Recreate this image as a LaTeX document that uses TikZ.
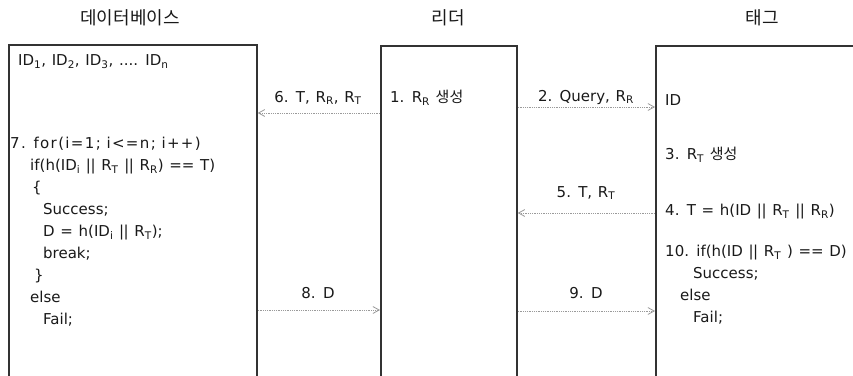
\documentclass[tikz,border=0pt]{standalone}
\usepackage{fontspec}
\setmainfont{DejaVu Sans}
\newfontfamily\kr{Noto Sans CJK KR}
\usetikzlibrary{arrows.meta,positioning}
\definecolor{boxline}{HTML}{333333}
\definecolor{msgline}{HTML}{9A9A9A}
\newcommand{\sbs}[1]{\textsubscript{#1}}
\newcommand{\dbar}{|\kern-0.5pt|}
\newcommand{\widespace}{\spaceskip=0.38em plus 0.1em\relax}
\newcommand{\spread}[2]{{\addfontfeature{LetterSpace=#1}#2}}

\begin{document}
\begin{tikzpicture}[x=1pt,y=1pt,
  every node/.style={font=\fontsize{15}{22}\selectfont,execute at begin node=\widespace,text=black!90,inner sep=0pt},
  party/.style={draw=boxline,line width=1.7pt,minimum width=#1,minimum height=345pt,anchor=north west},
  title/.style={font=\kr\fontsize{18}{20}\selectfont},
  msg/.style={msgline,densely dotted,line width=0.8pt,-{Straight Barb[length=2.2mm,width=2.4mm]}}]
  \useasboundingbox (0,0) rectangle (853,375);
  \clip (0,0) rectangle (853,375);
  % the three parties
  \node[party=248pt] (db) at (8,331) {};
  \node[party=136pt] (rd) at (380,330) {};
  \node[party=260pt] (tg) at (655,330) {};
  \node[title] (dbtitle) at (130,357) {데이터베이스};
  \node[title] (rdtitle) at (448,357) {리더};
  \node[title] (tgtitle) at (762,357) {태그};
  % database
  \node[anchor=west] (ids) at (18,313) {ID\sbs{1}, ID\sbs{2}, ID\sbs{3}, .... ID\sbs{n}};
  \node[anchor=north west,align=left] (dbcode) at (10,238) {\spread{9}{7. for(i=1; i<=n; i++)}\\
    \hspace*{20pt}if(h(ID\sbs{i} \dbar{} R\sbs{T} \dbar{} R\sbs{R}) == T)\\
    \hspace*{22pt}\{\\
    \hspace*{33pt}Success;\\
    \hspace*{33pt}D = h(ID\sbs{i} \dbar{} R\sbs{T});\\
    \hspace*{33pt}break;\\
    \hspace*{24pt}\}\\
    \hspace*{20pt}else\\
    \hspace*{33pt}Fail;};
  % reader
  \node[anchor=west] (rr) at (390,277) {1. R\sbs{R} {\kr 생성}};
  % tag
  \node[anchor=west] (tid) at (665,275) {ID};
  \node[anchor=west] (rt) at (665,220) {3. R\sbs{T} {\kr 생성}};
  \node[anchor=west] (tt) at (665,163) {4. T = h(ID \dbar{} R\sbs{T} \dbar{} R\sbs{R})};
  \node[anchor=north west,align=left] (tgcode) at (665,130) {10. if(h(ID \dbar{} R\sbs{T} ) == D)\\
    \hspace*{28pt}Success;\\
    \hspace*{15pt}else\\
    \hspace*{28pt}Fail;};
  % messages
  \node (m6) at (318,277) {6. T, R\sbs{R}, R\sbs{T}};
  \node (m2) at (586,278) {2. Query, R\sbs{R}};
  \node (m5) at (586,182) {5. T, R\sbs{T}};
  \node (m8) at (318,82) {8. D};
  \node (m9) at (586,82) {9. D};
  \draw[msg] (rd.west |- 0,262) -- (db.east |- 0,262);
  \draw[msg] (rd.east |- 0,268) -- (tg.west |- 0,268);
  \draw[msg] (tg.west |- 0,162) -- (rd.east |- 0,162);
  \draw[msg] (db.east |- 0,65) -- (rd.west |- 0,65);
  \draw[msg] (rd.east |- 0,64) -- (tg.west |- 0,64);
\end{tikzpicture}
\end{document}
